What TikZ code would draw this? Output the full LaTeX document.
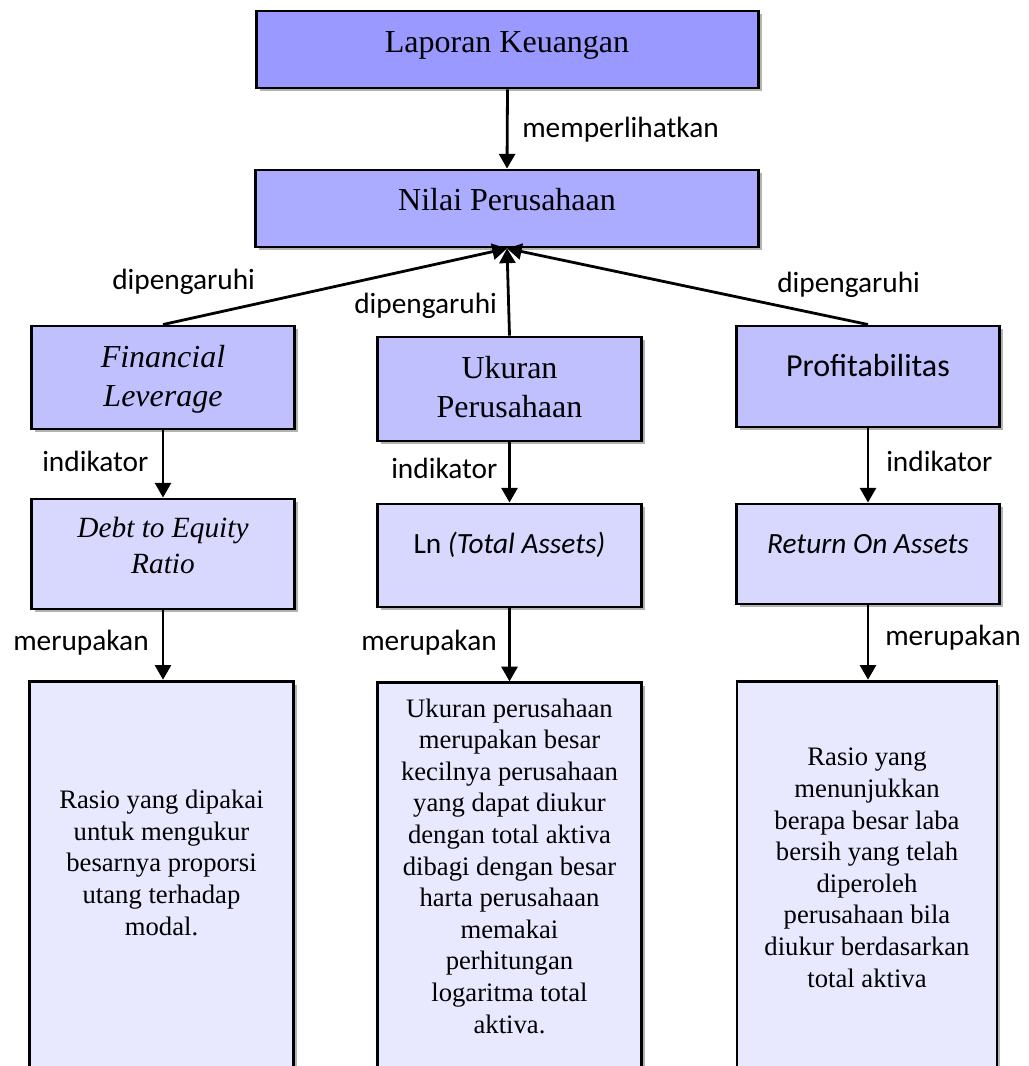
\documentclass[tikz,border=0pt]{standalone}
\usepackage{fontspec}
\setmainfont{Liberation Serif}
\newfontfamily\calib{Carlito}
\usetikzlibrary{arrows.meta,shadows}
\definecolor{cA}{RGB}{153,153,255}
\definecolor{cB}{RGB}{171,171,255}
\definecolor{cC}{RGB}{192,192,255}
\definecolor{cD}{RGB}{216,216,255}
\definecolor{cE}{RGB}{232,232,255}
\begin{document}
\begin{tikzpicture}[x=0.75pt,y=-0.75pt,
  box/.style={draw=black, line width=2.2pt, rectangle, inner sep=0pt,
    drop shadow={shadow xshift=2.5pt, shadow yshift=-2.5pt, opacity=0.3, fill=black}},
  wide/.style={minimum width=377pt, minimum height=57.75pt},
  mid/.style={minimum width=197.5pt},
  ser/.style={inner sep=0pt, anchor=base, align=center, font=\fontsize{24}{29}\selectfont},
  seri/.style={ser, font=\fontsize{24}{29}\selectfont\itshape},
  sans/.style={inner sep=0pt, anchor=base, align=center, font=\calib\fontsize{22}{26}\selectfont},
  desc/.style={inner sep=0pt, anchor=base, align=center, font=\fontsize{20}{23.7}\selectfont},
  lbl/.style={inner sep=0pt, anchor=base west, font=\calib\fontsize{22}{26}\selectfont},
  arr/.style={line width=2.1pt, -{Triangle[width=12pt,length=11pt]}}
]
\useasboundingbox (0,0) rectangle (1028,1066);

% boxes
\node[box, wide, fill=cA] (lap) at (507.5,49.5) {};
\node[box, wide, fill=cB] (nilai) at (507,208.5) {};
\node[box, mid, minimum height=77.25pt, fill=cC] (fl) at (163,377.5) {};
\node[box, mid, minimum height=78pt, fill=cC] (uk) at (509.5,389) {};
\node[box, mid, minimum height=75.75pt, fill=cC] (pr) at (868,376.5) {};
\node[box, mid, minimum height=82.5pt, fill=cD] (der) at (163,554) {};
\node[box, mid, minimum height=77.25pt, fill=cD] (ln) at (509.5,555.5) {};
\node[box, mid, minimum height=75pt, fill=cD] (roa) at (868,554) {};
\node[box, mid, minimum height=314pt, fill=cE] (d1) at (161.5,890.5) {};
\node[box, mid, minimum height=313pt, fill=cE] (d2) at (509.5,891.5) {};
\node[box, minimum width=195pt, minimum height=314pt, fill=cE] (d3) at (867,890.5) {};

% box texts (multi-line nodes: base = last line's baseline)
\node[ser] (tlap) at (507,53) {Laporan Keuangan};
\node[ser] (tnilai) at (507,210) {Nilai Perusahaan};
\node[seri] (tfl) at (163,406) {Financial\\Leverage};
\node[ser] (tuk) at (509.5,417) {Ukuran\\Perusahaan};
\node[sans, font=\calib\fontsize{24}{28}\selectfont] (tpr) at (868,376) {Profitabilitas};
\node[seri, font=\fontsize{22}{27}\selectfont\itshape] (tder) at (163,573) {Debt to Equity\\Ratio};
\node[sans] (tln) at (509.5,553) {Ln \textit{(Total Assets)}};
\node[sans] (troa) at (868,553) {\textit{Return On Assets}};
\node[desc] (td1) at (161.5,935) {Rasio yang dipakai\\untuk mengukur\\besarnya proporsi\\utang terhadap\\modal.};
\node[desc] (td2) at (509.5,1033) {Ukuran perusahaan\\merupakan besar\\kecilnya perusahaan\\yang dapat diukur\\dengan total aktiva\\dibagi dengan besar\\harta perusahaan\\memakai\\perhitungan\\logaritma total\\aktiva.};
\node[desc] (td3) at (867,987) {Rasio yang\\menunjukkan\\berapa besar laba\\bersih yang telah\\diperoleh\\perusahaan bila\\diukur berdasarkan\\total aktiva};

% connectors
\draw[arr] (lap.south) -- (nilai.north);
\draw[arr] (fl.north) -- (nilai.south);
\draw[arr] (uk.north) -- (nilai.south);
\draw[arr] (pr.north) -- (nilai.south);
\draw[arr] (fl.south) -- (der.north);
\draw[arr] (uk.south) -- (ln.north);
\draw[arr] (pr.south) -- (roa.north);
\draw[arr] (der.south) -- (der.south |- d1.north);
\draw[arr] (ln.south) -- (ln.south |- d2.north);
\draw[arr] (roa.south) -- (roa.south |- d3.north);

% connector labels
\node[lbl] (l1) at (522,138) {memperlihatkan};
\node[lbl] (l2) at (112,289) {dipengaruhi};
\node[lbl] (l3) at (354,313) {dipengaruhi};
\node[lbl] (l4) at (777,292) {dipengaruhi};
\node[lbl] (l5) at (42,471) {indikator};
\node[lbl] (l6) at (391,478) {indikator};
\node[lbl] (l7) at (886,471) {indikator};
\node[lbl] (l8) at (13,650) {merupakan};
\node[lbl] (l9) at (361,650) {merupakan};
\node[lbl] (l10) at (885,645) {merupakan};
\end{tikzpicture}
\end{document}
